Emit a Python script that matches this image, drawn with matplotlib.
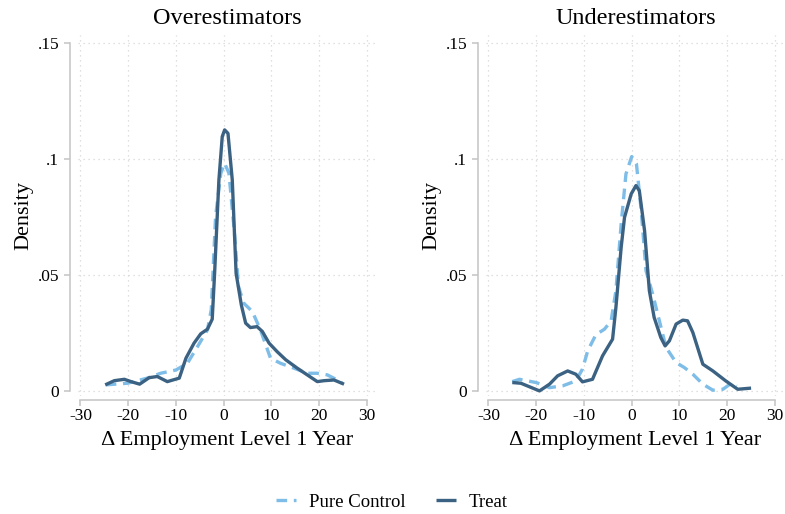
import numpy as np
import matplotlib.pyplot as plt

plt.rcParams['font.family'] = ['Liberation Serif', 'DejaVu Serif']

# Overestimators
over_ctrl_x = [-24.7, -20.1, -16.0, -13.2, -10.0, -7.6, -5.5, -3.4, -2.6, -1.7, -0.6, 0.2, 1.1, 2.2, 3.1,
               4.2, 6.0, 7.7, 9.8, 11.9, 14.7, 17.5, 19.6, 21.7, 23.8, 24.8]
over_ctrl_y = [.0026, .0033, .0055, .0076, .0090, .0119, .0190, .0263, .0350, .0750, .0938, .0981, .0938, .0694, .0450,
               .0378, .0342, .0263, .0141, .0119, .0098, .0076, .0076, .0069, .0047, .0033]
over_treat_x = [-24.8, -22.9, -20.8, -19.4, -17.6, -15.6, -13.9, -11.8, -9.3, -7.9, -6.2, -4.8, -3.4, -2.4, -1.9,
                -1.0, -0.3, 0.2, 0.9, 1.8, 2.6, 3.7, 4.6, 5.6, 7.0, 8.1, 9.5, 11.2, 13.0, 15.4, 17.5, 19.6,
                21.0, 23.1, 25.2]
over_treat_y = [.0026, .0044, .0050, .0040, .0029, .0057, .0062, .0040, .0055, .0141, .0206, .0246, .0266, .0309, .0507,
                .0909, .1096, .1125, .1110, .0909, .0507, .0370, .0292, .0273, .0277, .0256, .0206, .0169, .0134, .0098,
                .0069, .0040, .0044, .0047, .0029]

# Underestimators
under_ctrl_x = [-25.0, -23.5, -20.0, -17.2, -14.4, -11.7, -10.3, -9.2, -7.5, -5.7, -4.3, -3.3, -2.2, -1.2, 0.0,
                1.0, 2.0, 3.0, 4.4, 5.8, 7.2, 9.3, 11.0, 12.8, 14.9, 17.0, 19.1, 20.8, 22.0]
under_ctrl_y = [.0040, .0050, .0036, .0014, .0022, .0043, .0094, .0173, .0242, .0266, .0302, .0432, .0720, .0935, .1010,
                .0978, .0777, .0518, .0417, .0302, .0187, .0122, .0101, .0072, .0029, .0003, .0007, .0032, .0020]
under_treat_x = [-25.0, -23.2, -19.3, -17.2, -15.5, -13.4, -11.7, -10.3, -8.2, -6.1, -4.0, -3.3, -2.2, -1.5, -0.1,
                 0.9, 1.6, 2.7, 3.7, 4.7, 6.1, 7.0, 7.9, 9.3, 10.7, 11.7, 12.8, 14.9, 17.0, 19.7, 22.2, 25.0]
under_treat_y = [.0036, .0033, .0000, .0029, .0065, .0086, .0072, .0039, .0050, .0151, .0223, .0360, .0619, .0748, .0849,
                 .0885, .0863, .0690, .0432, .0317, .0230, .0194, .0216, .0288, .0305, .0302, .0252, .0115, .0086, .0043,
                 .0007, .0012]

titles = ['Overestimators', 'Underestimators']
xticks = [-30, -20, -10, 0, 10, 20, 30]
yticks = [0, .05, .1, .15]
ytick_labels = ['0', '.05', '.1', '.15']

light = '#7ebde7'
dark = '#3b6282'
spine_col = '#c4c4c4'

fig = plt.figure(figsize=(7.85, 5.14), dpi=100)
ax1 = fig.add_axes([78 / 785, 118 / 514, 299 / 785, 361 / 514])
ax2 = fig.add_axes([486 / 785, 118 / 514, 299 / 785, 361 / 514])

panels = [(ax1, over_ctrl_x, over_ctrl_y, over_treat_x, over_treat_y),
          (ax2, under_ctrl_x, under_ctrl_y, under_treat_x, under_treat_y)]

for i, (ax, cx, cy, tx, ty) in enumerate(panels):
    lc, = ax.plot(cx, cy, color=light, lw=2.4, dashes=(3.2, 2.0), solid_capstyle='butt',
                  dash_joinstyle='round')
    lt, = ax.plot(tx, ty, color=dark, lw=2.4, solid_joinstyle='round', solid_capstyle='butt')
    ax.set_xlim(-30.5, 32.1)
    ax.set_ylim(-0.0022, 0.1534)
    ax.set_xticks(xticks)
    ax.set_xticklabels([str(t) for t in xticks])
    ax.set_yticks(yticks)
    ax.set_yticklabels(ytick_labels)
    ax.grid(True, color='#d6d6d6', ls=(0, (1, 3)), lw=0.9)
    ax.set_axisbelow(True)
    for s in ['top', 'right']:
        ax.spines[s].set_visible(False)
    ax.spines['left'].set_position(('outward', 6))
    ax.spines['bottom'].set_position(('outward', 3))
    ax.spines['left'].set_bounds(0, .15)
    ax.spines['bottom'].set_bounds(-30, 30)
    for s in ['left', 'bottom']:
        ax.spines[s].set_color(spine_col)
        ax.spines[s].set_linewidth(1.1)
    ax.tick_params(axis='both', colors=spine_col, labelcolor='black', labelsize=12.5, length=4, width=1.1)
    ax.tick_params(axis='x', pad=2)
    ax.set_title(titles[i], fontsize=17.5, pad=8)
    ax.set_xlabel('Δ Employment Level 1 Year', fontsize=16, labelpad=5)
    ax.set_ylabel('Density', fontsize=16, labelpad=3)

fig.legend([lc, lt], ['Pure Control', 'Treat'], loc='center', bbox_to_anchor=(392 / 785, 1 - 502 / 514),
           ncol=2, frameon=False, fontsize=13.5, handlelength=1.05, columnspacing=1.6, handletextpad=0.7)

fig.savefig('out.png', dpi=100)
